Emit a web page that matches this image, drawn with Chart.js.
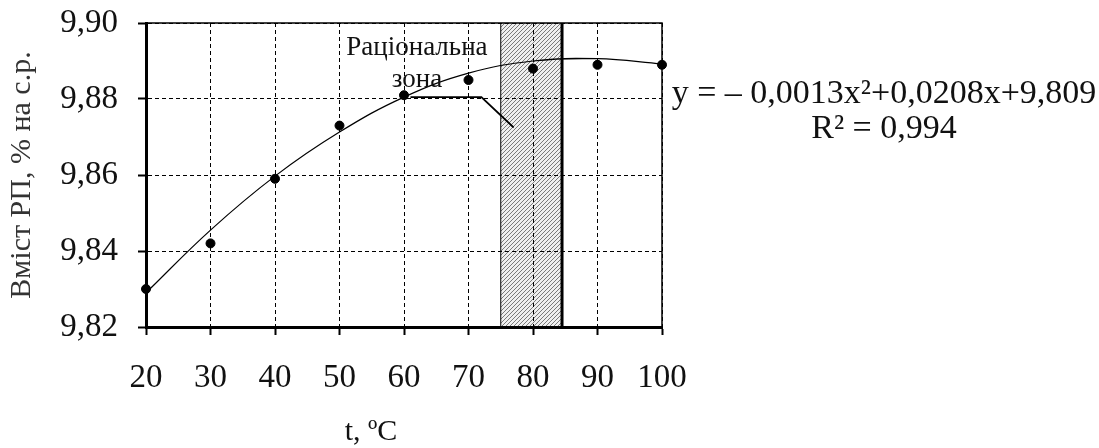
<!DOCTYPE html>
<html>
<head>
<meta charset="utf-8">
<script src="https://cdn.jsdelivr.net/npm/chart.js@4.4.0/dist/chart.umd.min.js"></script>
<style>
  html, body { margin: 0; padding: 0; background: #fff; }
  #wrap { width: 1099px; height: 448px; }
</style>
</head>
<body>
<div id="wrap"><canvas id="chart"></canvas></div>
<script>
// measured points
const temps = [20, 30, 40, 50, 60, 70, 80, 90, 100];
const content = [9.830, 9.842, 9.859, 9.873, 9.881, 9.885, 9.888, 9.889, 9.889];
// polynomial trend line
const trend = [9.8290, 9.8455, 9.8597, 9.8713, 9.8805, 9.8868, 9.8900, 9.8906, 9.8892];
// rational zone (t, °C) and the pointer line to its label
const zone = [75, 84.5];
const pointerX = [61, 72, 77];
const pointerY = [9.8805, 9.8805, 9.8725];

const serif = '"Liberation Serif", "DejaVu Serif", serif';

function hatchPattern(ctx) {
    const c = document.createElement('canvas');
    c.width = 4; c.height = 4;
    const p = c.getContext('2d');
    p.fillStyle = '#efefef';
    p.fillRect(0, 0, 4, 4);
    p.strokeStyle = '#7a7a7a';
    p.lineWidth = 1;
    p.beginPath();
    p.moveTo(-1, 5); p.lineTo(5, -1);
    p.stroke();
    return ctx.createPattern(c, 'repeat');
}

//hatched zone, frame and the text labels
const decor = {
    id: 'decor',
    beforeDraw: (chart) => {
        const { ctx, chartArea: a, scales: { x } } = chart;
        const x0 = x.getPixelForValue(zone[0]);
        const x1 = x.getPixelForValue(zone[1]);
        ctx.save();
        ctx.fillStyle = hatchPattern(ctx);
        ctx.fillRect(x0, a.top, x1 - x0, a.bottom - a.top);
        ctx.restore();
    },
    afterDraw: (chart) => {
        const { ctx, chartArea: a, scales: { x, y } } = chart;
        const x0 = x.getPixelForValue(zone[0]);
        const x1 = x.getPixelForValue(zone[1]);
        ctx.save();
        ctx.strokeStyle = '#000';
        // frame top + right
        ctx.lineWidth = 1.5;
        ctx.beginPath();
        ctx.moveTo(a.left, a.top);
        ctx.lineTo(a.right, a.top);
        ctx.lineTo(a.right, a.bottom);
        ctx.stroke();
        // zone edges
        ctx.lineWidth = 1;
        ctx.beginPath();
        ctx.moveTo(x0, a.top); ctx.lineTo(x0, a.bottom);
        ctx.stroke();
        ctx.lineWidth = 3;
        ctx.beginPath();
        ctx.moveTo(x1, a.top); ctx.lineTo(x1, a.bottom);
        ctx.stroke();

        ctx.fillStyle = '#111';
        ctx.textAlign = 'center';
        ctx.textBaseline = 'middle';
        ctx.font = `27px ${serif}`;
        ctx.fillText('Раціональна', x.getPixelForValue(62), y.getPixelForValue(9.8934));
        ctx.fillText('зона', x.getPixelForValue(62), y.getPixelForValue(9.8850));

        ctx.font = `34px ${serif}`;
        ctx.fillText('y = – 0,0013x²+0,0208x+9,809', 884, 94);
        ctx.fillText('R² = 0,994', 884, 129);

        ctx.font = `30px ${serif}`;
        ctx.fillText('t, ºC', 371, 432);
        ctx.restore();
    }
};

const ctx = document.getElementById('chart').getContext('2d');
new Chart(ctx, {
    type: 'scatter',
    data: {
        datasets: [
            {
                data: temps.map((t, i) => ({ x: t, y: content[i] })),
                backgroundColor: '#000',
                borderColor: '#000',
                pointRadius: 4.5,
                pointHoverRadius: 4.5,
                clip: false,
            },
            {
                type: 'line',
                data: temps.map((t, i) => ({ x: t, y: trend[i] })),
                borderColor: '#000',
                borderWidth: 1.2,
                pointRadius: 0,
                tension: 0.4,
                fill: false,
                clip: false,
            },
            {
                type: 'line',
                data: pointerX.map((t, i) => ({ x: t, y: pointerY[i] })),
                borderColor: '#000',
                borderWidth: 1.8,
                pointRadius: 0,
                tension: 0,
                fill: false,
            }
        ]
    },
    options: {
        responsive: true,
        maintainAspectRatio: false,
        animation: false,
        layout: {
            padding: { top: 23, right: 437, left: 0, bottom: 0 }
        },
        plugins: {
            legend: { display: false },
            tooltip: { enabled: false }
        },
        scales: {
            x: {
                type: 'linear',
                min: 20,
                max: 100,
                afterFit: (s) => { s.height = 121; s.paddingLeft = 0; s.paddingRight = 0; },
                ticks: {
                    stepSize: 10,
                    color: '#111',
                    padding: 24,
                    maxRotation: 0,
                    font: { family: serif, size: 33 }
                },
                grid: {
                    color: '#000',
                    lineWidth: 1,
                    tickLength: 8,
                    tickWidth: 2,
                    tickColor: '#000',
                    tickBorderDash: [1, 0]
                },
                border: { color: '#000', width: 3, dash: [4, 3] }
            },
            y: {
                min: 9.82,
                max: 9.90,
                afterFit: (s) => { s.width = 146; s.paddingTop = 0; s.paddingBottom = 0; },
                ticks: {
                    stepSize: 0.02,
                    color: '#111',
                    padding: 20,
                    font: { family: serif, size: 33 },
                    callback: (v) => v.toFixed(2).replace('.', ',')
                },
                grid: {
                    color: '#000',
                    lineWidth: 1,
                    tickLength: 8,
                    tickWidth: 2,
                    tickColor: '#000',
                    tickBorderDash: [1, 0]
                },
                border: { color: '#000', width: 3, dash: [4, 3] },
                title: {
                    display: true,
                    text: 'Вміст РП, % на с.р.',
                    color: '#333',
                    padding: { top: 4, bottom: 0 },
                    font: { family: serif, size: 30 }
                }
            }
        }
    },
    plugins: [decor]
});
</script>
</body>
</html>
